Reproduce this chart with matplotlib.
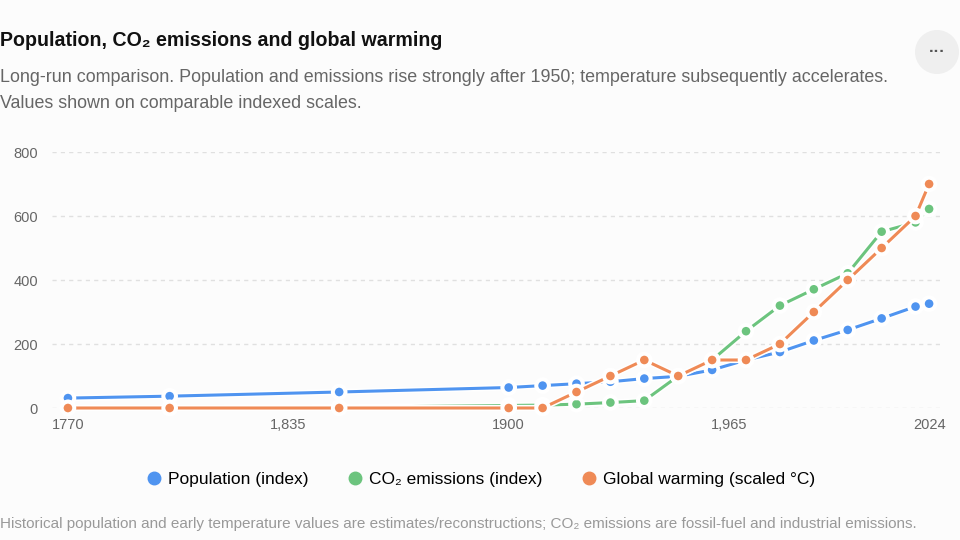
import matplotlib
matplotlib.use("Agg")
import matplotlib.pyplot as plt
from matplotlib.lines import Line2D
from matplotlib.patches import Circle
import matplotlib.patheffects as pe

plt.rcParams["font.family"] = ["Liberation Sans", "DejaVu Sans"]

years = [1770, 1800, 1850, 1900, 1910, 1920, 1930, 1940, 1950,
         1960, 1970, 1980, 1990, 2000, 2010, 2020, 2024]
population = [31, 37, 50, 64, 70, 76, 82, 92, 99,
              119, 150, 175, 211, 244, 280, 317, 326]
co2 = [0, 0, 2, 8, 9, 12, 17, 23, 100,
       150, 240, 320, 371, 421, 551, 580, 622]
warming = [0, 0, 0, 0, 0, 50, 100, 150, 100,
           150, 150, 200, 300, 400, 500, 600, 700]

x_ticks = [1770, 1835, 1900, 1965, 2024]
x_tick_labels = ["1770", "1,835", "1900", "1,965", "2024"]
y_ticks = [0, 200, 400, 600, 800]
labels = ["Population (index)", "CO₂ emissions (index)", "Global warming (scaled °C)"]

BLUE = "#4f94f0"
GREEN = "#6cc47e"
ORANGE = "#ef8a56"
BG = "#fcfcfc"

fig = plt.figure(figsize=(9.6, 5.4), dpi=100, facecolor=BG)
W, H = 960, 540

ax = fig.add_axes([52 / W, 1 - 408 / H, 891 / W, 256 / H])
ax.set_facecolor(BG)

halo = [pe.Stroke(linewidth=4.5, foreground="white"), pe.Normal()]
for vals, col, lab in zip((population, co2, warming), (BLUE, GREEN, ORANGE), labels):
    ax.plot(years, vals, color=col, lw=2.2, marker="o", ms=7.5,
            mec="white", mew=1.3, label=lab, clip_on=False,
            path_effects=halo, zorder=3)

ax.set_xlim(1765.3, 2028.1)
ax.set_ylim(0, 800)
ax.set_xticks(x_ticks)
ax.set_xticklabels(x_tick_labels)
ax.set_yticks(y_ticks)
ax.grid(axis="y", color="#e0e0e0", ls=(0, (3, 3)), lw=1)
ax.set_axisbelow(True)
for s in ax.spines.values():
    s.set_visible(False)
ax.tick_params(length=0, labelsize=10.5, labelcolor="#666666")
ax.tick_params(axis="y", pad=10)
ax.tick_params(axis="x", pad=7)

fig.text(0, 1 - 40 / H, "Population, CO₂ emissions and global warming",
         fontsize=14.1, fontweight="bold", color="#111111", va="center")
fig.text(0, 1 - 77 / H, "Long-run comparison. Population and emissions rise strongly after 1950; "
         "temperature subsequently accelerates.",
         fontsize=12.9, color="#666666", va="center")
fig.text(0, 1 - 103 / H, "Values shown on comparable indexed scales.",
         fontsize=12.9, color="#666666", va="center")
fig.text(0, 1 - 524 / H, "Historical population and early temperature values are "
         "estimates/reconstructions; CO₂ emissions are fossil-fuel and industrial emissions.",
         fontsize=11.0, color="#999999", va="center")

handles = [Line2D([], [], ls="", marker="o", ms=9, color=c, mec=c)
           for c in (BLUE, GREEN, ORANGE)]
fig.legend(handles, labels, loc="center", bbox_to_anchor=(480 / W, 1 - 479 / H),
           ncol=3, frameon=False, fontsize=12.5, handletextpad=0.3,
           columnspacing=2.2, handlelength=1.0)

btn = Circle((9.37, 5.4 - 0.52), 0.22, transform=fig.dpi_scale_trans,
             facecolor="#efefef", edgecolor="none")
fig.patches.append(btn)
fig.text(937 / W, 1 - 51 / H, "···", fontsize=12, color="#555555",
         ha="center", va="center", fontweight="bold")

fig.savefig("out.png", dpi=100, facecolor=BG)
